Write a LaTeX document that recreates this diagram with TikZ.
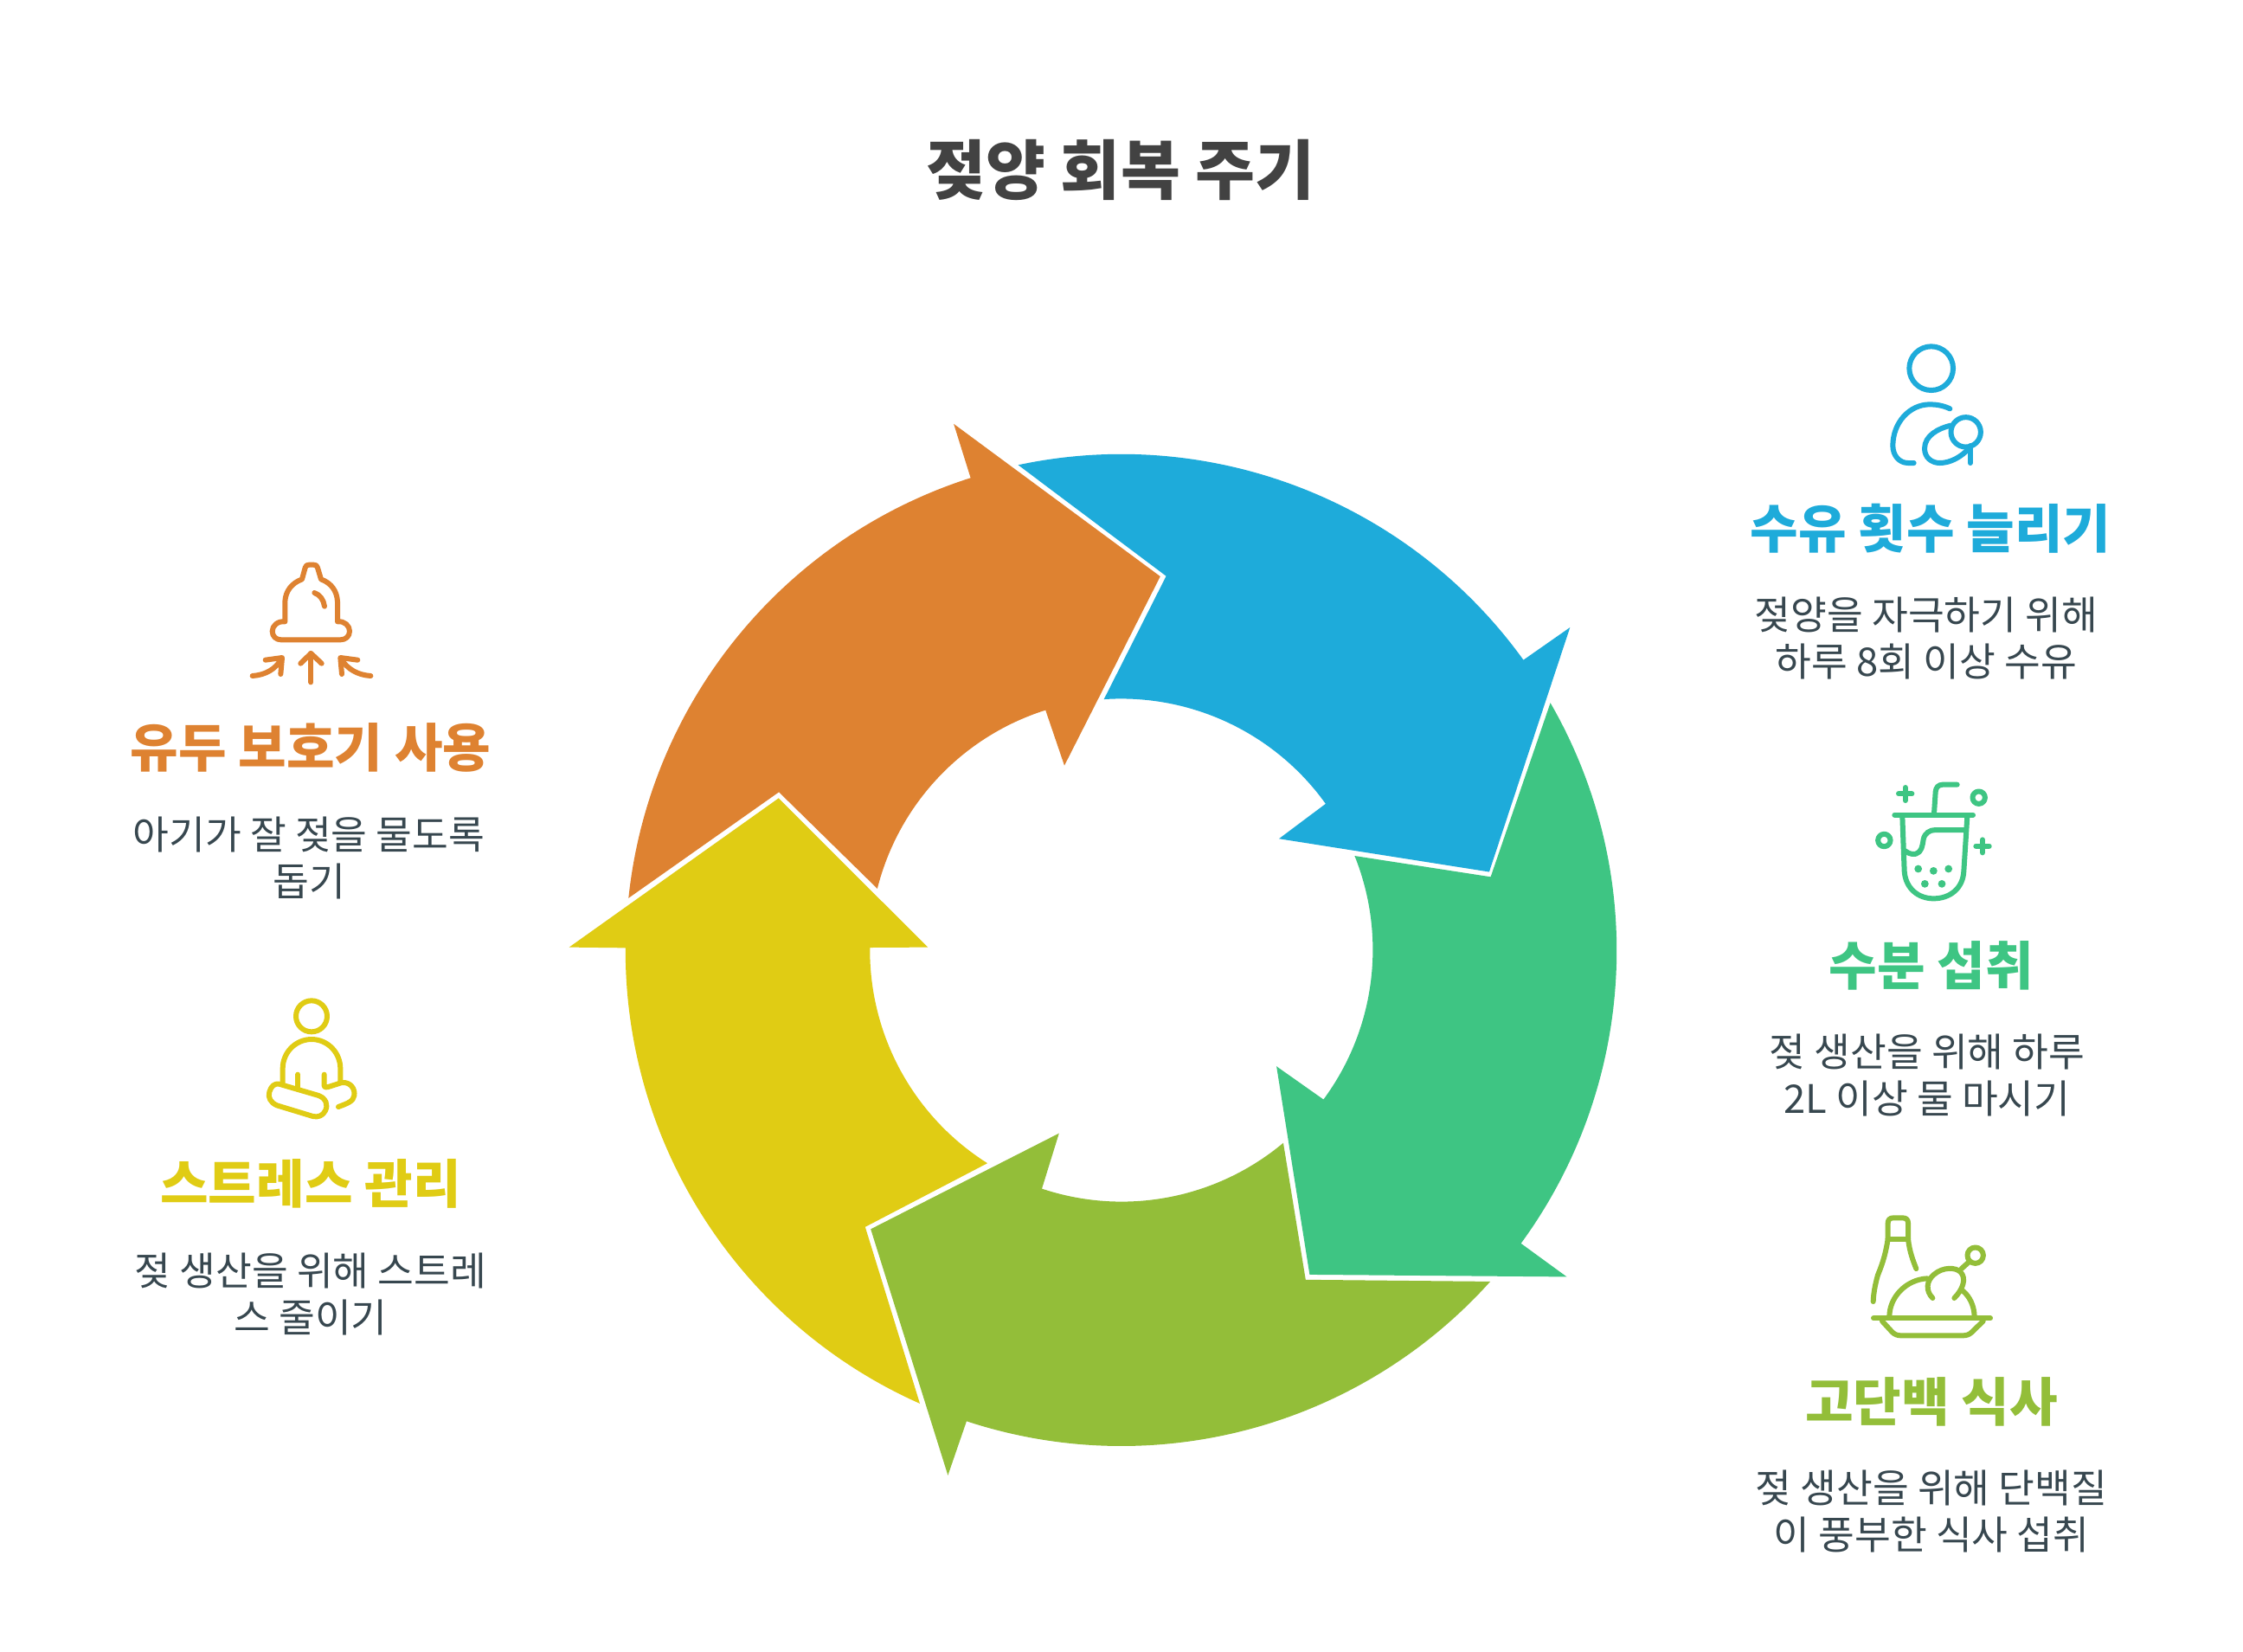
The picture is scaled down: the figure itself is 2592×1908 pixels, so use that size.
\documentclass[tikz,border=0pt]{standalone}
\usepackage{fontspec}
\setmainfont{Noto Sans CJK KR}
\definecolor{cblue}{HTML}{1EABDA}
\definecolor{cgreen}{HTML}{3EC583}
\definecolor{clime}{HTML}{93BE39}
\definecolor{cyell}{HTML}{E0CC14}
\definecolor{corange}{HTML}{DE8231}
\definecolor{ctext}{HTML}{37474F}
\definecolor{ctitle}{HTML}{424242}
\tikzset{
  titletext/.style={font=\fontsize{37.5}{44}\selectfont\bfseries,text=ctitle,inner sep=0pt},
  headtext/.style={font=\fontsize{30.2}{36}\selectfont\bfseries,inner sep=0pt},
  bodytext/.style={font=\fontsize{22.7}{27}\selectfont,text=ctext,align=center,inner sep=0pt},
  iconline/.style={line width=3pt,line cap=round,line join=round},
  zoomed/.style={x=0.16667pt,y=0.16667pt}
}
\begin{document}
\begin{tikzpicture}[x=.5pt,y=.5pt,yscale=-1]
\fill[white] (0,0) rectangle (2592,1908);
\useasboundingbox (0,0) rectangle (2592,1908);

\node[titletext] (title) at (1295,196) {젖양 회복 주기};

% cycle arrows
\fill[cblue] (1176.6,537.3) arc[start angle=-102,end angle=-35.8,radius=286.5pt] -- (1814.3,725) -- (1720.9,1007.5) -- (1478,969.2) -- (1531.9,928.8) arc[start angle=-35.65,end angle=-93.9,radius=145.5pt] -- (1347.6,665.7) -- cycle;
\fill[cgreen] (1791.6,812.2) arc[start angle=-29.97,end angle=36.2,radius=286.5pt] -- (1810.5,1475.4) -- (1513.4,1472.9) -- (1475.1,1232.2) -- (1529.4,1270.5) arc[start angle=36.47,end angle=-21.9,radius=145.5pt] -- (1722.6,1013.3) -- cycle;
\fill[clime] (1722.1,1480.9) arc[start angle=41.94,end angle=108.2,radius=286.5pt] -- (1095.4,1704.8) -- (1006.2,1420.3) -- (1223.8,1309.6) -- (1204,1373.6) arc[start angle=108.46,end angle=50.06,radius=145.5pt] -- (1508.8,1478.8) -- cycle;
\fill[cyell] (1063,1621.9) arc[start angle=113.97,end angle=180.3,radius=286.5pt] -- (657.7,1094.6) -- (899.7,922.4) -- (1072.2,1094.6) -- (1005.3,1095) arc[start angle=180.6,end angle=122.24,radius=145.5pt] -- (999.8,1417.8) -- cycle;
\fill[corange] (726.3,1037.8) arc[start angle=-173.97,end angle=-107.73,radius=286.5pt] -- (1102.1,489.8) -- (1340.8,666.1) -- (1230,884.6) -- (1208.2,820.6) arc[start angle=-107.56,end angle=-165.84,radius=145.5pt] -- (900.1,915.3) -- cycle;

% right column
\node[headtext,text=cblue] (h1) at (2231,611) {수유 횟수 늘리기};
\node[bodytext] (b1) at (2226,738) {젖양을 자극하기 위해\\하루 8회 이상 수유};
\node[headtext,text=cgreen] (h2) at (2232,1116) {수분 섭취};
\node[bodytext] (b2) at (2227,1242) {젖 생산을 위해 하루\\2L 이상 물 마시기};
\node[headtext,text=clime] (h3) at (2232,1620) {고단백 식사};
\node[bodytext] (b3) at (2232,1746) {젖 생산을 위해 단백질\\이 풍부한 식사 섭취};
% left column
\node[headtext,text=corange] (h4) at (359,864) {유두 보호기 사용};
\node[bodytext] (b4) at (357,991) {아기가 잘 젖을 물도록\\돕기};
\node[headtext,text=cyell] (h5) at (359,1368) {스트레스 관리};
\node[bodytext] (b5) at (359,1495) {젖 생산을 위해 스트레\\스 줄이기};

% icon: nursing
\begin{scope}[shift={(2000,360)},zoomed,draw=cblue,iconline]
\draw (695,197) circle[radius=12.67pt];
\draw (815,418) circle[radius=8.6pt];
\draw (760,337) .. controls (735,325) and (710,322) .. (690,322) .. controls (620,322) and (562,385) .. (562,465) .. controls (562,500) and (585,525) .. (615,525) -- (635,525);
\draw (762,395) .. controls (720,405) and (672,430) .. (672,475) .. controls (672,505) and (695,525) .. (725,525) .. controls (760,525) and (800,505) .. (830,470);
\draw (830,465) -- (830,525);
\end{scope}

% icon: drink
\begin{scope}[shift={(2100,880)},zoomed,draw=cgreen,iconline]
\draw (268,185) -- (540,185);
\draw (295,190) -- (302,380) .. controls (306,440) and (350,475) .. (403,475) .. controls (460,475) and (505,440) .. (508,380) -- (520,190);
\draw (305,310) .. controls (320,322) and (335,322) .. (342,320) .. controls (362,315) and (365,290) .. (368,270) .. controls (372,248) and (390,237) .. (410,237) -- (510,237);
\draw (405,180) -- (410,105) .. controls (411,90) and (420,80) .. (435,80) -- (485,80);
\fill[cgreen] (350,372) circle[radius=2.2pt] (403,379) circle[radius=2.2pt] (455,372) circle[radius=2.2pt] (373,424) circle[radius=2.2pt] (432,424) circle[radius=2.2pt];
\draw (305,90) -- (305,135) (282,112) -- (328,112);
\draw (573,271) -- (573,316) (550,293) -- (596,293);
\draw (560,125) circle[radius=3.6pt];
\draw (232,273) circle[radius=3.6pt];
\end{scope}

% icon: meal
\begin{scope}[shift={(2120,1390)},zoomed,draw=clime,iconline]
\draw (135,400) -- (540,400);
\draw (165,410) -- (200,448) .. controls (208,456) and (218,460) .. (230,460) -- (445,460) .. controls (458,460) and (468,456) .. (476,448) -- (515,410);
\draw (190,395) .. controls (190,325) and (250,265) .. (322,262);
\draw (340,330) .. controls (315,305) and (318,270) .. (345,248) .. controls (375,222) and (420,222) .. (437,240) .. controls (458,262) and (445,300) .. (415,330);
\draw (445,305) .. controls (468,325) and (484,355) .. (485,395);
\draw (440,228) -- (468,203);
\draw (488,182) circle[radius=4.6pt];
\draw (185,125) -- (185,70) .. controls (185,58) and (192,52) .. (204,52) -- (236,52) .. controls (248,52) and (255,58) .. (255,70) -- (255,125);
\draw (185,125) -- (255,125);
\draw (185,125) .. controls (175,190) and (160,225) .. (150,250) .. controls (140,285) and (135,315) .. (134,342);
\draw (255,125) .. controls (260,170) and (272,200) .. (283,228);
\end{scope}

% icon: shield
\begin{scope}[shift={(270,630)},zoomed,draw=corange,iconline]
\draw (178,265) -- (178,195) .. controls (180,160) and (200,132) .. (237,118) -- (248,78) .. controls (250,70) and (254,68) .. (262,68) -- (277,68) .. controls (285,68) and (289,70) .. (291,78) -- (303,118) .. controls (340,132) and (358,160) .. (360,195) -- (360,265) .. controls (385,262) and (402,280) .. (402,298) .. controls (402,316) and (388,328) .. (370,328) -- (165,328) .. controls (147,328) and (134,316) .. (134,298) .. controls (134,280) and (152,262) .. (178,265) -- cycle;
\draw (280,165) .. controls (300,172) and (312,190) .. (315,212);
\draw (268,475) -- (268,375);
\draw (232,410) -- (268,375) -- (305,410);
\draw (65,453) .. controls (110,450) and (145,430) .. (165,395);
\draw (110,398) -- (168,390) -- (163,447);
\draw (475,453) .. controls (430,450) and (395,430) .. (373,395);
\draw (430,398) -- (370,390) -- (375,447);
\end{scope}

% icon: meditation
\begin{scope}[shift={(280,1140)},zoomed,draw=cyell,iconline]
\draw (240,103) circle[radius=9pt];
\draw (140,335) -- (140,285) .. controls (140,228) and (185,183) .. (240,183) .. controls (295,183) and (340,228) .. (340,285) -- (340,328);
\draw (193,305) -- (193,352);
\draw (284,305) -- (284,345) .. controls (284,350) and (290,350) .. (298,348) -- (345,333) .. controls (375,330) and (392,355) .. (388,378) .. controls (385,398) and (365,405) .. (333,417);
\draw (128,338) -- (265,378) .. controls (290,388) and (298,410) .. (288,430) .. controls (280,448) and (262,454) .. (245,450) -- (120,412) .. controls (98,402) and (88,385) .. (94,365) .. controls (100,345) and (112,335) .. (128,338) -- cycle;
\end{scope}
\end{tikzpicture}
\end{document}
